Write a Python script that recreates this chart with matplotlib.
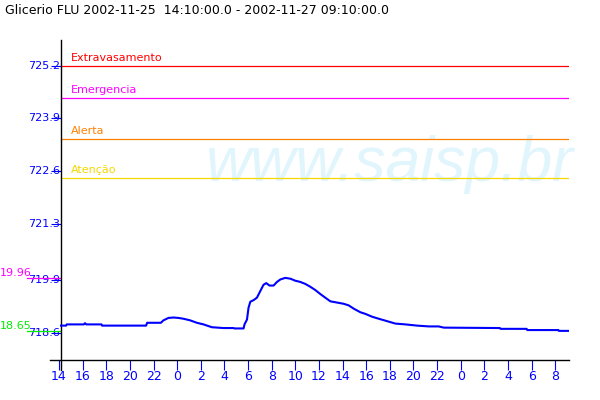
"""
Reservoir level chart: Glicerio FLU, 2002-11-25 14:10 to 2002-11-27 09:10,
with alert threshold lines (saisp.br applet style).
"""

import matplotlib
matplotlib.use("Agg")
import matplotlib.pyplot as plt
import matplotlib.transforms as mtransforms

# ── Data ──────────────────────────────────────────────────────────────────────
# time in hours since 2002-11-25 00:00
hours = [14.17, 14.60, 14.65, 16.10, 16.20, 16.30, 17.60, 17.64, 21.37, 21.46,
         22.62, 22.84, 23.26, 23.69, 24.11, 24.53, 25.10, 25.67, 26.23, 26.94,
         27.92, 28.77, 28.85, 29.62, 29.70, 29.91, 30.04, 30.19, 30.47, 30.75,
         31.03, 31.31, 31.54, 31.82, 32.16, 32.45, 32.73, 33.15, 33.58, 34.00,
         34.42, 34.85, 35.27, 35.69, 36.12, 36.54, 36.97, 37.53, 38.09, 38.52,
         38.94, 39.51, 39.93, 40.50, 41.06, 41.77, 42.47, 43.32, 44.31, 45.30,
         46.14, 46.57, 51.31, 51.37, 53.58, 53.64, 56.26, 56.31, 57.17]
level = [718.78, 718.78, 718.81, 718.81, 718.84, 718.81, 718.81, 718.78, 718.78, 718.85,
         718.85, 718.91, 718.97, 718.98, 718.97, 718.95, 718.91, 718.85, 718.81, 718.74,
         718.72, 718.72, 718.71, 718.71, 718.81, 718.93, 719.22, 719.37, 719.41, 719.47,
         719.63, 719.79, 719.83, 719.77, 719.77, 719.86, 719.92, 719.96, 719.94, 719.89,
         719.86, 719.81, 719.74, 719.66, 719.56, 719.47, 719.38, 719.35, 719.32, 719.28,
         719.20, 719.11, 719.07, 719.00, 718.95, 718.89, 718.83, 718.81, 718.78, 718.76,
         718.76, 718.73, 718.72, 718.70, 718.70, 718.67, 718.67, 718.65, 718.65]

t_start, t_end = 14 + 10 / 60, 57 + 10 / 60

thresh_names  = ["Extravasamento", "Emergencia", "Alerta", "Atenção"]
thresh_values = [725.2, 724.4, 723.4, 722.43]
thresh_colors = ["#ff0000", "#ff00ff", "#ff8000", "#f5d800"]

ytick_values = [718.6, 719.9, 721.3, 722.6, 723.9, 725.2]
ytick_labels = ["718.6", "719.9", "721.3", "722.6", "723.9", "725.2"]

xtick_hours = list(range(14, 57, 2))
xtick_labels = [str(h % 24) for h in xtick_hours]

level_max, level_min = 719.96, 718.65
title = "Glicerio FLU 2002-11-25  14:10:00.0 - 2002-11-27 09:10:00.0"

# ── Figure ────────────────────────────────────────────────────────────────────
fig = plt.figure(figsize=(6, 4), dpi=100)
ax = fig.add_axes([50 / 600, 0.1, 519 / 600, 0.8])

ax.set_xlim(t_start - 0.93, t_end)
ax.set_ylim(717.93, 725.84)

# watermark
ax.text(0.30, 0.56, "www.saisp.br", transform=ax.transAxes, fontsize=45,
        family="Liberation Sans", style="italic", color="#e1f5fc",
        ha="left", va="baseline", zorder=0)

# threshold lines + labels
for name, val, col in zip(thresh_names, thresh_values, thresh_colors):
    ax.plot([t_start, t_end], [val, val], color=col, lw=0.9, zorder=2)
    ax.annotate(name, xy=(t_start, val), xytext=(7, 2), textcoords="offset points",
                color=col, fontsize=8, ha="left", va="bottom")

# level series
ax.plot(hours, level, color="#0000ff", lw=1.5, zorder=3)

# spines / axes lines
ax.spines["top"].set_visible(False)
ax.spines["right"].set_visible(False)
ax.spines["left"].set_position(("data", t_start))
ax.spines["left"].set_bounds(717.68, 725.84)
for s in ("left", "bottom"):
    ax.spines[s].set_color("black")
    ax.spines[s].set_linewidth(1.0)

ax.set_yticks(ytick_values, ytick_labels)
ax.tick_params(axis="y", colors="#0000ff", length=7, width=0.8, pad=-6.0, labelsize=8)
for lbl in ax.get_yticklabels():
    lbl.set_verticalalignment("center")

ax.set_xticks(xtick_hours, xtick_labels)
ax.tick_params(axis="x", colors="#0000ff", length=7, width=0.8, pad=0.5, labelsize=9)

# max / min markers on the far left
trans = mtransforms.blended_transform_factory(fig.transFigure, ax.transData)
x0, x1 = 27 / 600, 60 / 600
for val, col in [(level_max, "#ff00ff"), (level_min, "#00ee00")]:
    ax.plot([x0, x1], [val, val], color=col, lw=0.9, transform=trans, clip_on=False)
    ax.text(0.0, val, f"{val:.2f}"[1:], transform=trans, color=col, fontsize=8,
            ha="left", va="bottom")

fig.text(5 / 600, 1 - 11 / 400, title, fontsize=9, color="black", ha="left", va="center")

fig.savefig("out.png", dpi=100, facecolor="white")
